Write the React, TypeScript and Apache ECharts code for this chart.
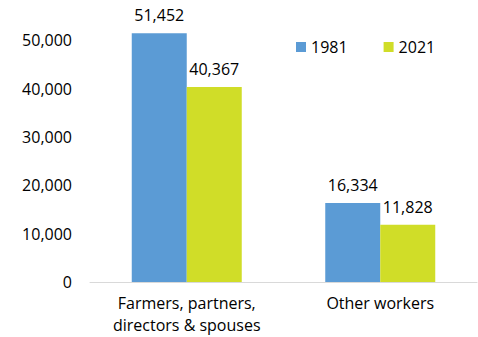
import React, { useEffect, useRef } from "react";
import * as echarts from "echarts";

const categories = ["Farmers, partners,\ndirectors & spouses", "Other workers"];
const series1981 = [51452, 16334];
const series2021 = [40367, 11828];
const yTicks = [0, 10000, 20000, 30000, 40000, 50000, 60000];

const FONT = "'Open Sans', sans-serif";
const FS = 16;

export default function App() {
  const ref = useRef<HTMLDivElement>(null);
  useEffect(() => {
    if (!ref.current) return;
    const chart = echarts.init(ref.current, undefined, { renderer: "svg" });
    const fmt = (v: number) => v.toLocaleString("en-US");
    const labelStyle = {
      show: true,
      position: "top",
      distance: 10,
      fontSize: FS,
      color: "#000",
      fontFamily: FONT,
      formatter: (p: any) => fmt(p.value),
    };
    chart.setOption({
      animation: false,
      textStyle: { fontFamily: FONT },
      legend: {
        left: 296,
        top: 39,
        padding: 0,
        itemWidth: 10,
        itemHeight: 10,
        itemGap: 36,
        icon: "rect",
        textStyle: { fontSize: FS, color: "#000", fontFamily: FONT },
        data: ["1981", "2021"],
      },
      grid: { left: 90, right: 1, top: -8, bottom: 55, containLabel: false, outerBoundsMode: "none" },
      xAxis: {
        type: "category",
        data: categories,
        axisLine: { lineStyle: { color: "#d9d9d9", width: 1 } },
        axisTick: { show: false },
        axisLabel: { interval: 0, hideOverlap: false, fontSize: FS, color: "#000", lineHeight: 22, margin: 10, fontFamily: FONT },
      },
      yAxis: {
        type: "value",
        min: yTicks[0],
        max: yTicks[yTicks.length - 1],
        interval: 10000,
        splitLine: { show: false },
        axisLine: { show: false },
        axisTick: { show: false },
        axisLabel: { fontSize: FS, color: "#000", margin: 18, formatter: fmt, fontFamily: FONT },
      },
      series: [
        {
          name: "1981",
          type: "bar",
          data: series1981,
          barWidth: 55,
          barGap: "0%",
          itemStyle: { color: "#5b9bd5" },
          label: labelStyle,
        },
        {
          name: "2021",
          type: "bar",
          data: series2021,
          barWidth: 55,
          barGap: "0%",
          itemStyle: { color: "#d0dd28" },
          label: labelStyle,
        },
      ],
    });
    return () => chart.dispose();
  }, []);
  return <div ref={ref} style={{ width: 478, height: 337, position: "absolute", left: 0, top: 0 }} />;
}
